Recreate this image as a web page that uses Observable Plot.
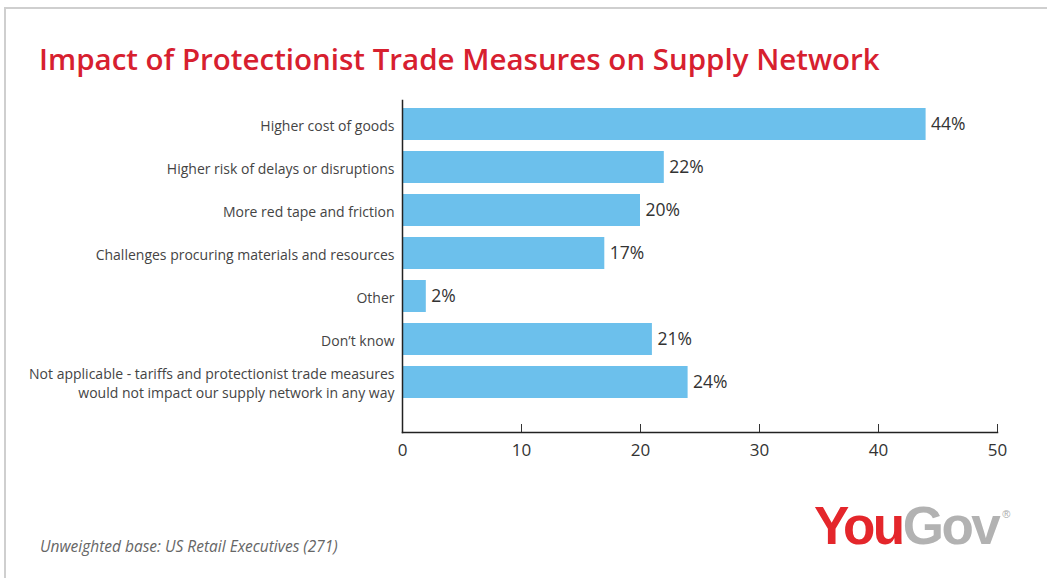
<!DOCTYPE html>
<html>
<head>
<meta charset="utf-8">
<script src="https://cdn.jsdelivr.net/npm/d3@7"></script>
<script src="https://cdn.jsdelivr.net/npm/@observablehq/plot@0.6"></script>
<style>
  html, body { margin: 0; padding: 0; background: #fff; }
  #page { position: relative; width: 1047px; height: 578px; overflow: hidden; font-family: "Open Sans", Lato, sans-serif; }
  #frame { position: absolute; left: 4px; top: 7px; width: 1100px; height: 600px; border-left: 2px solid #cfcfcf; border-top: 2px solid #cfcfcf; }
  #title { position: absolute; left: 39px; top: 39px; margin: 0; font-family: "Open Sans", sans-serif; font-size: 29.5px; font-weight: 600; color: #d7202f; white-space: nowrap; letter-spacing: 0; line-height: 40px; }
  #chart { position: absolute; left: 0; top: 90px; }
  #caption { position: absolute; left: 40px; top: 535px; font-family: "Open Sans", sans-serif; font-size: 15.5px; font-style: italic; color: #666; }
  #logo { position: absolute; left: 814px; top: 499px; font-family: "Liberation Sans", Arial, sans-serif; font-weight: 700; font-size: 53px; letter-spacing: -2.5px; line-height: 1; }
  #logo .you { color: #e4262b; }
  #logo .gov { color: #b2b2b2; }
  #logo sup { font-size: 11px; font-weight: 400; color: #aaa; vertical-align: top; position: relative; top: 10px; left: 4px; letter-spacing: 0; }
</style>
</head>
<body>
<div id="page">
  <div id="frame"></div>
  <h1 id="title">Impact of Protectionist Trade Measures on Supply Network</h1>
  <div id="chart"></div>
  <div id="caption">Unweighted base: US Retail Executives (271)</div>
  <div id="logo"><span class="you">You</span><span class="gov">Gov</span><sup>®</sup></div>
</div>
<script>
const categories = [
  "Higher cost of goods",
  "Higher risk of delays or disruptions",
  "More red tape and friction",
  "Challenges procuring materials and resources",
  "Other",
  "Don’t know",
  "Not applicable - tariffs and protectionist trade measures\nwould not impact our supply network in any way"
];
const values = [44, 22, 20, 17, 2, 21, 24];
const xTicks = [0, 10, 20, 30, 40, 50];

const data = categories.map((c, i) => ({category: c, value: values[i]}));

const chart = Plot.plot({
  width: 1047,
  height: 390,
  marginTop: 10,
  marginBottom: 48,
  marginLeft: 402,
  marginRight: 50,
  style: {fontFamily: "'Open Sans', Lato, sans-serif", background: "transparent"},
  x: {domain: [0, 50], ticks: xTicks},
  y: {domain: categories, paddingInner: 0.26, paddingOuter: 0.14, insetBottom: 27, label: null},
  marks: [
    Plot.barX(data, {y: "category", x: "value", fill: "#6cc0ec"}),
    Plot.text(data, {y: "category", x: "value", text: d => d.value + "%", textAnchor: "start", dx: 5, fontSize: 17.5, fill: "#333"}),
    Plot.axisY({tickSize: 0, tickPadding: 8, fontSize: 14, fill: "#444", lineHeight: 1.36, label: null}),
    Plot.axisX(xTicks, {tickSize: -8, text: null, label: null, stroke: "#333"}),
    Plot.axisX(xTicks, {tickSize: 0, tickPadding: 11, fontSize: 17, fill: "#333", label: null}),
    Plot.frame({anchor: "left", stroke: "#222", strokeWidth: 1.5}),
    Plot.frame({anchor: "bottom", stroke: "#222", strokeWidth: 1.5})
  ]
});
document.getElementById("chart").appendChild(chart);
</script>
</body>
</html>
